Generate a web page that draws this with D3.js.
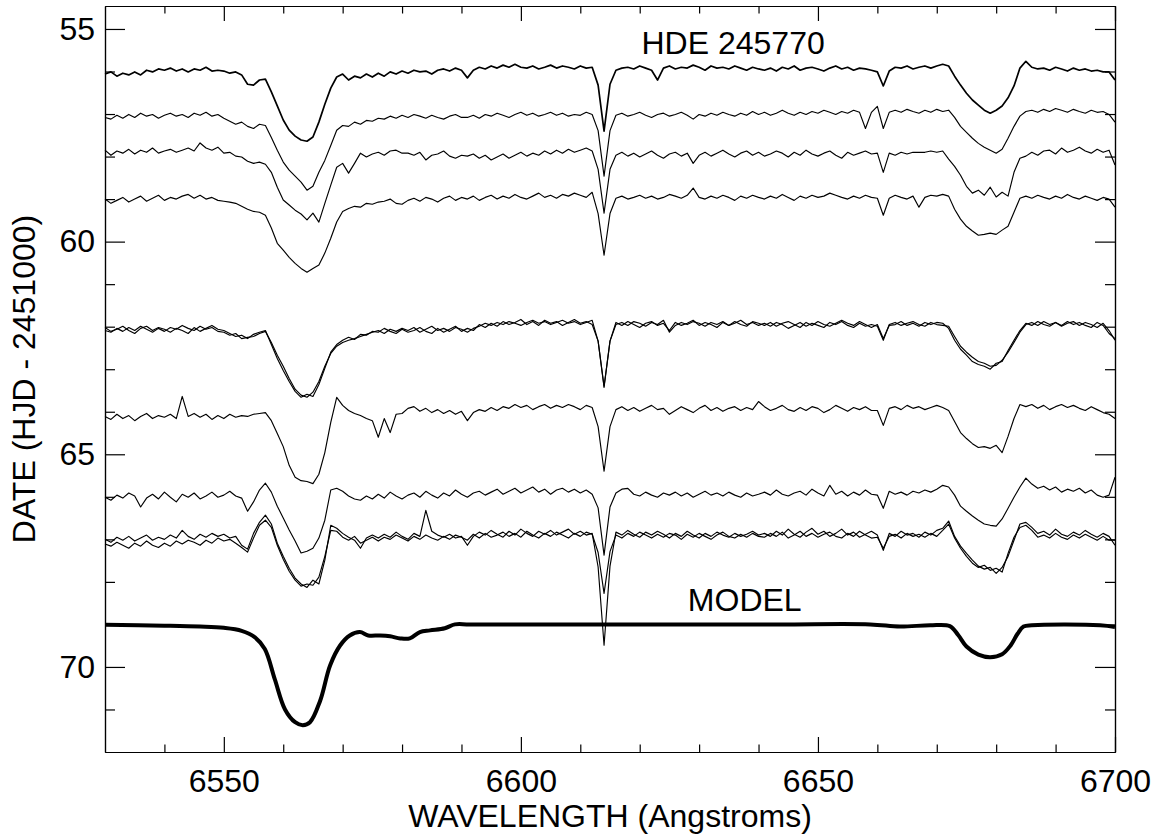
<!DOCTYPE html>
<html lang="en">
<head>
<meta charset="utf-8">
<title>HDE 245770 spectra</title>
<script src="https://cdnjs.cloudflare.com/ajax/libs/d3/7.8.5/d3.min.js"></script>
<style>
  body {
    margin: 0;
    background: #fff;
    font-family: "Liberation Sans", Arial, sans-serif;
  }
  svg {
    display: block;
  }
  .axis path, .axis line {
    stroke: #000;
    stroke-width: 1.2;
  }
  .label {
    font-family: "Liberation Sans", Arial, sans-serif;
    font-size: 32px;
    fill: #000;
  }
</style>
</head>
<body>
<svg></svg>
<script>
// observed spectra are sampled every Angstrom from 6530 to 6700
var waveStart = 6530;
var waveStep = 1;

// date of each spectrum (HJD - 2451000), top to bottom
var spectrumDates = [55.92, 57.03, 57.92, 58.98, 62.04, 62.04, 63.97, 65.96, 66.95, 66.95];

// depth below the date baseline, in hundredths of a day (positive = absorption)
var spec1 = [14,9,19,12,16, 9,16,5,9,2, 5,0,7,2,9,2,5,-2,7,5, 7,12,9,16, 38,40,28,26,
  56,89,122,146,160,169,172,162,127,85,47,21,14, 28,19,23,14,21,12,19,9,14,7,
  12,5,9,7,14,5,2,7,0,5, 23, 5,-2,2,-5,0,-7,-2,-9,-2, 0,-5,2,-2,-7,0,-5,-2,2,-5,0,-2,
  40,148,38, 5,0,-2,2,-5,0,5, 28, 0,-5,2,-2,0,-7,-2,5,-5,0,-2,2,-5,0,5,-2,2,
  5,0,7,-2,2,-5,5,0,-2,2,7,0,-5,2,-2,5,0,2,5, 9,42,7, -2,0,-5,2,-2,-5,0, -5,-9,
  -5,19,40,59,75,87,99,106,99,89,70,42,0,-16, -2,2,0,5,-2,2,7,0,5,2,7,5,9, 9,28];

var spec2 = [5,9,0,7,-2,5,-5,2,-2,7, 0,-5,2,-2,5,-5,0,-7,2,-2, 7,14,21,16, 26,31,21,24,
  52,82,110,129,143,157,176,167,134,106,71,35,24,26,16,21,12,14,
  7,9,2,7,0,5,-2,2,7,0,5,9,2,-2,5,
  5,0,7,-2,2,-5,0,5,-2,-7,0,-5,2,-2,-7,0,-5,2,-2,0,-7,-2,
  36,143,36, 0,-5,2,-2,-7,0,5,-2,-5,2,-2,-7,0,9,-2,
  2,-5,0,-7,-2,2,-5,0,-9,-2,-7,0,-5,-12,-5,0,-7,-2,-9,-5,-12,-7,-2,-9,-5,-12,-7,
  31,-7,-21,31,-7, -12,-7,-14,-9,-5,-12,-7,-14,-9,-12,
  5,26,40,54,66,75,82,89,80,54,26,2,-9, -12,-7,-14,-9,-16,-12,-7,-14,-9,-5,-12,-7,-9,-2, 16];

var spec3 = [-7,5,-5,0,-9,2,-7,-2,-12,0, -5,-9,-2,-7,-12,-5,-24,-12,-7,-14,
  0,-2,7,9,19,24,21,26,45,80,110,122,134,143,157,141,162,118,75,33,24,47,24,0,9,2,
  -2,5,-5,-7,0,0,5,-2,16,5,2,-5,7,12,5,
  7,2,12,5,16,9,2,12,5,-2,7,0,5,-5,2,-7,0,-9,-2,-7,-12,-5,
  38,141,38, 5,-2,7,0,9,2,-5,5,12,2,-2,7,0,24,5,
  -2,7,0,-7,2,9,0,-5,5,-2,7,2,-5,0,9,-2,5,-7,2,7,0,-5,5,12,-2,5,0,-5,2,
  0,45,0, 5,-2,2,-2,-2,-2,-5,-2,-5,
  14,31,52,78,94,87,99,80,103,92,101,45,12,7, -2,5,-5,-7,2,-12,-2,-7,-14,-5,0,-9,-2,-7, 28];

var spec4 = [2,12,5,-2,9,2,-5,7,0,-7, 5,-2,2,-5,-9,0,-7,2,-2,5, 7,9,
  12,19,26,31,33,40,70,106,122,139,153,165,174,165,157,129,94,56,31,24,19,21,12,14,
  9,7,2,12,14,5,0,7,-2,2,9,0,-5,5,-2,
  2,-5,5,-2,-7,2,-5,0,-9,-2,2,-5,-12,-2,-7,0,-9,-5,-12,-7,-2,-14,
  36,134,36, 0,-5,2,-2,-7,0,-5,2,-2,-9,-5,0,-7,-24,-2,
  2,-5,0,-7,-2,5,-5,0,-7,-2,2,-5,0,-9,-2,5,-5,0,-7,-2,-5,-12,-7,-2,2,-5,0,-7,-2,
  0,40,0, -7,-2,2,-5,21,-2,-7,-5,-9,
  -5,26,49,66,77,87,85,82,85,75,66,33,0,-5, 0,-7,-2,2,-5,0,-9,-2,2,-5,0,5,-2,2, 21];

var spec5a = [5,9,0,7,-2,5,-5,2,9,0, 7,-2,2,-7,0,5,-5,2,-2,7, 9,16,12,24, 21,19,12,7,
  33,63,89,118,143,157,162,150,125,89,59,42,33,28,24,19,14,9,
  5,12,2,7,0,5,-2,9,2,-5,5,0,7,-2,2,9,0,
  -5,-12,-7,-14,-9,-16,-12,-7,-14,-19,-12,-16,-9,-14,-19,-12,-16,-9,-14,-19,
  30,139,30, -9,-14,-7,-16,-12,-5,-14,-9,-19,9,-7,-14,-9,-16,-12,-5,-14,-9,-16,-7,-12,-19,-9,-14,-7,
  -12,-5,-14,-9,0,-7,-14,-5,-12,-7,-2,-14,-9,-16,-7,-2,-12,-5,-9,
  -5,28,-9, -14,-7,-12,-16,-9,-5,-14,-9,-7,
  -5,19,42,56,68,78,82,89,87,75,56,33,9,-9, -14,-7,-16,-9,-14,-5,-12,-16,-7,-14,-9,-2,-12,5, 28];

var spec5b = [-2,7,2,-5,5,12,0,-5,5,-2, 2,9,0,5,12,-2,7,0,-7,2, 5,12,19,16, 24,14,9,5,
  38,71,99,125,148,162,155,160,132,94,56,38,28,21,26,14,16,7,
  9,0,7,12,2,9,5,-2,7,12,0,9,2,-5,7,0,5,
  -9,-2,-12,-5,-16,-9,-14,-21,-9,-16,-7,-19,-12,-16,-7,-14,-21,-12,-16,-9,
  30,136,30, -14,-7,-16,-9,-2,-12,-16,-7,-12,5,-14,-7,-12,-19,-7,-14,-9,-2,-14,-7,-16,-9,-5,-16,-12,
  -7,-14,-5,-12,-16,-9,-2,-14,-7,-16,-9,-5,-12,-19,-12,-7,-16,-9,-2,
  -9,24,-7, -9,-16,-7,-12,-5,-14,-9,-14,-12,
  0,28,49,63,78,85,89,96,82,78,52,28,5,-12, -7,-16,-9,-5,-14,-7,-16,-9,-14,-7,-2,-14,-7,12, 24];

var spec6 = [14,21,9,19,12,24,14,7,19,12, 16,9,19,-33,14,7,16,9,21,12, 19,9,16,12,14,9,7,5,
  24,54,85,129,157,165,167,172,150,99,28,-31,-12,0,7,12,19,24,63,19,52,9,7,
  -5,-9,2,-5,5,-2,7,0,9,2, 24,
  5,-2,2,-7,0,-9,-5,-14,-7,-12,-2,-9,-14,-5,-12,-7,-14,-9,-2,-12,-7,
  38,143,38, -2,-9,0,-7,2,-5,-12,-2,-5,9,0,-9,-2,5,-5,-12,0,-7,2,-5,-9,0,-7,-2, -21,
  -9,0,-5,-12,-2,2,-7,0,-9,-5,5,-2,-12,-5,2,-7,-2,-9,0,
  0,35,-5, -9,-2,-12,-5,-9,-2,-7,-12,-7,
  0,26,52,66,78,87,85,89,82,99,61,19,-14,-9, -14,-5,-12,-2,-9,-14,-7,-12,-5,0,-9,-2,5,9, 19];

var spec7 = [5,12,0,7,-5,2,28,7,-2,9, -7,5,16,-2,5,-5,9,2,-7,5, 0,-9,2,7,
  38,16,-12,-28,-7,26,54,82,108,136,132,125,101,59,-12,-16,-9,2,9,12,2,9,
  -2,7,-7,2,9,0,-5,5,-9,0,7,-5,2,-12,-2,
  5,-5,-9,0,-7,-14,-2,-9,-16,-5,-12,-19,-7,-14,-2,-12,-16,-7,-14,-5,-12,-2,
  30,141,28, -5,-14,-16,-2,2,-7,0,5,-5,0,-7,2,-5,5,-2,-9,0,-5,2,-7,0,5,-5,2,-2,
  -7,0,-12,-2,2,-5,-9,0,-14,-5,2,-23,-2,-9,2,-7,0,-12,-2,
  0,31,-9, -2,-7,0,-9,-5,-12,-7,-14,-23,
  -19,0,26,38,49,59,68,71,73,56,31,5,-19,-40,-26,-16, -21,-12,-19,-7,-14,-9,-16,-5,-12,0,5,0, -42];

var spec8a = [5,12,0,7,-2,9,2,-5,7,0, 5,-5,2,-16,-2,5,-7,0,-9,-2, -7,2,-2,19,
  28,-9,-35,-52,-31,14,45,73,96,110,118,101,110,54,-28,-21,-9,0,7,26,2,-5,
  2,-7,0,-12,-2,5,-9,-2,-63,-14,-5,0,-7,2,-2, 19,
  -2,-12,-5,-16,-7,0,-14,-5,-19,-9,-2,-14,-7,-16,-5,-12,-19,-7,-14,-5,-9,
  70,254,68, -12,-5,-16,-7,0,-12,-5,-14,-7,2,-9,-2,-14,-5,2,-9,-2,-12,-5,0,-9,-2,-7,-14,-5,
  -9,-2,-14,-5,-19,-7,0,-12,-21,-7,-14,-2,-9,-19,-5,-12,0,-7,-14,
  -5,31,-9, -2,-14,-5,-9,0,-12,-5,-16,-21,
  -38,-2,21,38,54,68,75,71,85,71,45,7,-31,-35,-23,-9, -14,-5,-19,-7,-2,-12,-5,-16,-7,0,-9,-2, 19];

var spec8b = [16,21,12,19,26,14,21,9,19,24, 14,21,9,16,7,12,19,7,14,2, 9,5,14,24,
  35,2,-28,-40,-23,19,52,80,101,115,110,113,94,45,-16,-14,0,7,-2,14,7,0,
  9,0,5,-5,2,9,-2,5,-5,2,7,-2,5,-5,0, 7,
  -7,2,-9,0,-5,-12,-2,-9,0,-14,-5,2,-9,-2,-12,-5,2,-9,-2,-12,-7,
  36,132,34, -5,2,-9,-2,-12,-5,2,-7,0,-9,-5,5,-7,0,-9,-2,5,-5,-12,-2,2,-7,0,-9,-2,
  0,-9,-2,-12,2,-5,-14,-2,-9,0,-7,-12,-2,2,-9,-2,-14,-5,2,
  0,26,-2, -7,2,-9,-2,-7,0,-9,-2,-16,
  -31,2,26,45,61,71,66,78,73,82,38,0,-23,-28,-16,0, -5,2,-9,0,5,-5,2,-7,0,7,-2,7, 7];

var spectra = [spec1, spec2, spec3, spec4, spec5a, spec5b, spec6, spec7, spec8a, spec8b];

// synthetic model profile, plotted at day 69
var modelWave = [6530, 6540, 6546, 6550, 6553, 6555.2, 6556.9, 6558.6, 6560.3, 6562, 6563.3,
  6564.5, 6566.2, 6567.9, 6569.6, 6571.2, 6572.9, 6574.3, 6576.3, 6578, 6579.7,
  6581.3, 6583, 6584.7, 6587.2, 6588.9, 6591.4, 6620, 6643.6, 6658.8, 6663.8,
  6668.9, 6672.2, 6673.6, 6675, 6677, 6679, 6681, 6682.4, 6683.6,
  6684.6, 6686, 6697.5, 6700];
var modelDate = [69.01, 69.03, 69.05, 69.08, 69.15, 69.30, 69.58, 70.30, 71.00, 71.30, 71.37,
  71.30, 70.80, 69.96, 69.49, 69.26, 69.18, 69.26, 69.26, 69.28, 69.33,
  69.33, 69.18, 69.14, 69.09, 69.0, 69.0, 69.0, 69.0, 69.0, 69.05,
  69.02, 69.04, 69.25, 69.52, 69.71, 69.77, 69.70, 69.50, 69.22,
  69.05, 69.02, 69.02, 69.06];

var xTicks = [6550, 6600, 6650, 6700];
var xMinorTicks = [6540, 6560, 6570, 6580, 6590, 6610, 6620, 6630, 6640, 6660, 6670, 6680, 6690];
var yTicks = [55, 60, 65, 70];
var yMinorTicks = [56, 57, 58, 59, 61, 62, 63, 64, 66, 67, 68, 69, 71];

var width = 1155;
var height = 837;
var margin = {top: 6, right: 40, bottom: 85, left: 105};

var svg = d3.select("svg")
    .attr("width", width)
    .attr("height", height);

var xScale = d3.scaleLinear()
    .domain([6530, 6700])
    .range([margin.left, width - margin.right]);

// dates increase downward
var yScale = d3.scaleLinear()
    .domain([54.46, 72.0])
    .range([margin.top, height - margin.bottom]);

var x0 = margin.left, x1 = width - margin.right;
var y0 = margin.top, y1 = height - margin.bottom;

// axes on all four sides, ticks pointing inward
function addAxis(axis, tx, ty) {
  var g = svg.append("g")
      .attr("class", "axis")
      .attr("transform", "translate(" + tx + "," + ty + ")")
      .call(axis);
  g.selectAll("text").attr("class", "label").attr("font-size", null).attr("font-family", null);
  return g;
}

addAxis(d3.axisBottom(xScale).tickValues(xTicks).tickSize(-15).tickSizeOuter(0)
    .tickPadding(17).tickFormat(d3.format("d")), 0, y1);
addAxis(d3.axisBottom(xScale).tickValues(xMinorTicks).tickSize(-7.5).tickSizeOuter(0)
    .tickFormat(""), 0, y1);
addAxis(d3.axisTop(xScale).tickValues(xTicks).tickSize(-15).tickSizeOuter(0)
    .tickFormat(""), 0, y0);
addAxis(d3.axisTop(xScale).tickValues(xMinorTicks).tickSize(-7.5).tickSizeOuter(0)
    .tickFormat(""), 0, y0);

addAxis(d3.axisLeft(yScale).tickValues(yTicks).tickSize(-20).tickSizeOuter(0)
    .tickPadding(10).tickFormat(d3.format("d")), x0, 0);
addAxis(d3.axisLeft(yScale).tickValues(yMinorTicks).tickSize(-10).tickSizeOuter(0)
    .tickFormat(""), x0, 0);
addAxis(d3.axisRight(yScale).tickValues(yTicks).tickSize(-20).tickSizeOuter(0)
    .tickFormat(""), x1, 0);
addAxis(d3.axisRight(yScale).tickValues(yMinorTicks).tickSize(-10).tickSizeOuter(0)
    .tickFormat(""), x1, 0);

// observed spectra
var line = d3.line()
    .x(d => xScale(d[0]))
    .y(d => yScale(d[1]));

spectra.forEach(function(spec, k) {
  if (spec.length !== 171) console.error("spectrum " + (k + 1) + " has " + spec.length + " points");
  var pts = spec.map((v, i) => [waveStart + i * waveStep, spectrumDates[k] + v / 100]);
  svg.append("path")
      .datum(pts)
      .attr("fill", "none")
      .attr("stroke", "#000")
      .attr("stroke-width", k === 0 ? 1.7 : 1.15)
      .attr("stroke-linejoin", "round")
      .attr("d", line);
});

// model
var modelLine = d3.line()
    .x(d => xScale(d[0]))
    .y(d => yScale(d[1]))
    .curve(d3.curveCatmullRom.alpha(0.5));

svg.append("path")
    .datum(modelWave.map((w, i) => [w, modelDate[i]]))
    .attr("fill", "none")
    .attr("stroke", "#000")
    .attr("stroke-width", 4)
    .attr("stroke-linejoin", "round")
    .attr("d", modelLine);

// annotations
svg.append("text")
    .attr("class", "label")
    .attr("x", xScale(6620.3))
    .attr("y", yScale(55.58))
    .text("HDE 245770");

svg.append("text")
    .attr("class", "label")
    .attr("x", xScale(6628.1))
    .attr("y", yScale(68.68))
    .text("MODEL");

// axis titles
svg.append("text")
    .attr("class", "label")
    .attr("x", (x0 + x1) / 2)
    .attr("y", 827)
    .style("text-anchor", "middle")
    .text("WAVELENGTH (Angstroms)");

svg.append("text")
    .attr("class", "label")
    .attr("transform", "rotate(-90)")
    .attr("x", -(y0 + y1) / 2)
    .attr("y", 35)
    .style("text-anchor", "middle")
    .text("DATE (HJD - 2451000)");
</script>
</body>
</html>
